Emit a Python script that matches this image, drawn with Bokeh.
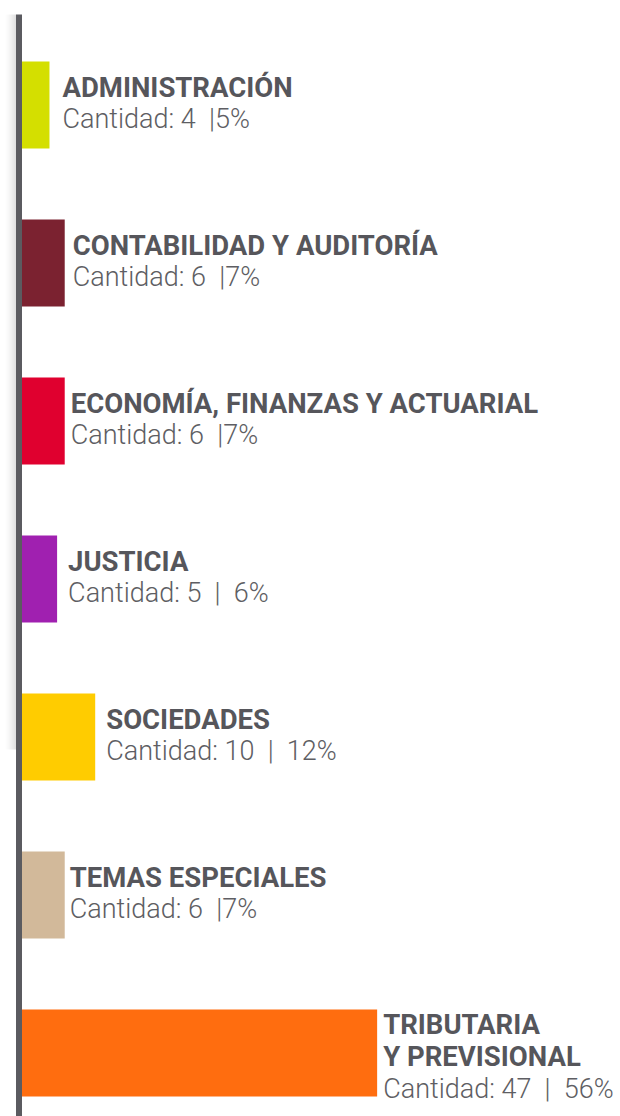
from bokeh.plotting import figure
from bokeh.models import Range1d
from bokeh.core.properties import value
from bokeh.embed import file_html
from bokeh.resources import INLINE

# ---- data ----
categories = ["ADMINISTRACIÓN", "CONTABILIDAD Y AUDITORÍA", "ECONOMÍA, FINANZAS Y ACTUARIAL",
              "JUSTICIA", "SOCIEDADES", "TEMAS ESPECIALES", "TRIBUTARIA\nY PREVISIONAL"]
counts = [4, 6, 6, 5, 10, 6, 47]
percents = [5, 7, 7, 6, 12, 7, 56]
separators = ["\u00a0\u00a0|", "\u00a0\u00a0|", "\u00a0\u00a0|", "\u00a0\u00a0|\u00a0\u00a0",
              "\u00a0\u00a0|\u00a0\u00a0", "\u00a0\u00a0|", "\u00a0\u00a0|\u00a0\u00a0"]
colors = ["#D4DF00", "#7B2230", "#E0002F", "#A020B0", "#FFCC00", "#D2B99A", "#FF6D0F"]

# ---- layout constants (pixels) ----
W, H = 620, 1116
ZERO_PX = 18.5          # x pixel of value 0
PX_PER_UNIT = 7.62      # bar length per unit
ROW0_PX = 104.5         # y pixel of first row centre
ROW_PX = 158.0          # row spacing
BAR_H = 87.0 / ROW_PX   # bar height in row units
LABEL_GAPS = [13, 8, 6, 11, 11, 5, 6]

def px_x(px):
    return (px - ZERO_PX) / PX_PER_UNIT

def px_y(px):
    return (px - ROW0_PX) / ROW_PX

p = figure(width=W, height=H, output_backend="svg", toolbar_location=None,
           x_range=Range1d(px_x(0), px_x(W)),
           y_range=Range1d(px_y(H), px_y(0)),
           min_border=0, outline_line_color=None, background_fill_color="white",
           border_fill_color="white")
p.axis.visible = False
p.grid.visible = False

idx = list(range(len(categories)))

# soft shadow left of the axis line
shadow_top, shadow_bottom = px_y(14), px_y(749)
for k in range(11):
    p.quad(left=px_x(15.5 - k - 1), right=px_x(15.5 - k), top=shadow_top, bottom=shadow_bottom,
           fill_color="#000000", fill_alpha=0.12 * (1 - k / 11) ** 1.4, line_color=None)

# bars
p.hbar(y=idx, left=0, right=counts, height=BAR_H, fill_color=colors, line_color=None)

# axis line
p.segment(x0=[0], x1=[0], y0=[px_y(14)], y1=[px_y(H + 10)], line_color="#5B5B60", line_width=6)

# labels
TITLE_FONT = value("Roboto")
SUB_FONT = value("Roboto Light")
for i in idx:
    lines = categories[i].split("\n")
    sub = f"Cantidad:\u00a0{counts[i]}{separators[i]}{percents[i]}%"
    if len(lines) == 1:
        offs = [-17.5]
        sub_off = 14.0
    else:
        offs = [-28.5, 3.5]
        sub_off = 35.5
    for line, off in zip(lines, offs):
        p.text(x=[counts[i]], y=[i], text=[line], x_offset=LABEL_GAPS[i], y_offset=off,
               text_baseline="alphabetic", text_align="left", text_font=TITLE_FONT,
               text_font_style="bold", text_font_size="27.5px", text_color="#56565B")
    p.text(x=[counts[i]], y=[i], text=[sub], x_offset=LABEL_GAPS[i], y_offset=sub_off,
           text_baseline="alphabetic", text_align="left", text_font=SUB_FONT,
           text_font_size="27px", text_color="#5E5E63")

open("out.html", "w").write(file_html(p, INLINE))
